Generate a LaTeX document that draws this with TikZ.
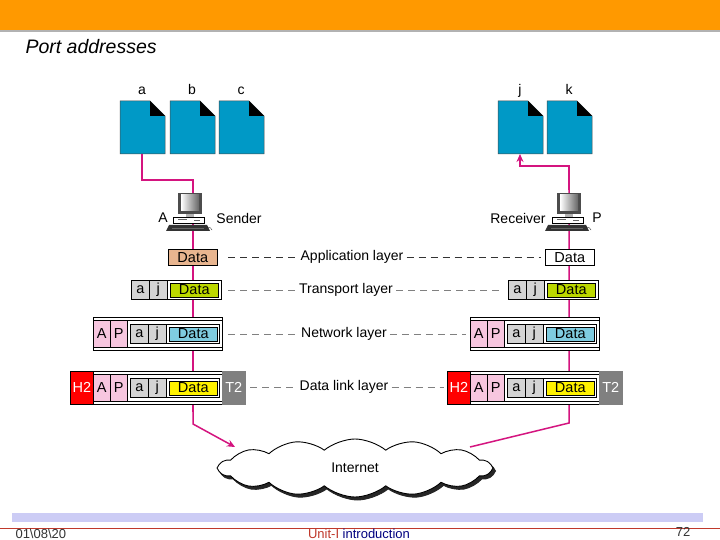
\documentclass[tikz,border=0pt]{standalone}
\usepackage{fontspec}
\setmainfont{Liberation Sans}
\usetikzlibrary{shapes.symbols,arrows.meta}
\definecolor{orangebar}{HTML}{FF9900}
\definecolor{pagec}{HTML}{0099C6}
\definecolor{tan}{HTML}{E8B58F}
\definecolor{lime}{HTML}{BCD800}
\definecolor{lblue}{HTML}{7FCCE0}
\definecolor{pinkc}{HTML}{F7C6DF}
\definecolor{greyc}{HTML}{D4D4D4}
\definecolor{mag}{HTML}{D4147F}
\definecolor{lav}{HTML}{CCCCF5}
\definecolor{footred}{HTML}{C0392B}
\begin{document}
\begin{tikzpicture}[x=1pt,y=-1pt,
  cell/.style={draw=black,line width=0.6pt,inner sep=0pt,font=\fontsize{14.5}{14.5}\selectfont},
  frame/.style={draw=black,line width=0.6pt,fill=white},
  lbl/.style={font=\fontsize{14}{14}\selectfont,inner sep=1pt},
  lay/.style={lbl,fill=white,inner sep=3pt},
  dsh/.style={dash pattern=on 7pt off 5pt,line width=0.8pt},
  wire/.style={draw=mag,line width=1.5pt},
  arr/.style={wire,-{Stealth[length=8pt,width=7pt]}},
  page/.style={fill=pagec,draw=black!70,line width=0.5pt},
  cl/.style={cloud,cloud puffs=14,cloud puff arc=80,aspect=4.8,minimum width=272,minimum height=58,line width=0.9pt}]
\useasboundingbox (0,0) rectangle (720,540);
\fill[white] (0,0) rectangle (720,540);
% header
\fill[orangebar] (0,0) rectangle (720,30);
\fill[gray!60] (0,30) rectangle (720,32);
\node[anchor=west,font=\fontsize{19.5}{19.5}\selectfont\itshape] (title) at (22,47) {Port addresses};
% footer
\fill[lav] (12,513) rectangle (703,522);
\draw[footred,line width=0.8pt] (0,528) -- (720,528);
\node[anchor=west,font=\fontsize{13}{13}\selectfont,text=black!80] (date) at (12,534) {01\textbackslash 08\textbackslash 20};
\node[font=\fontsize{13}{13}\selectfont] (unit) at (359,534) {\textcolor{footred}{Unit-I} \textcolor{blue!50!black}{introduction}};
\node[font=\fontsize{13}{13}\selectfont,text=black!80] (pg) at (683,532) {72};
% pages
\foreach \n/\x in {a/120,b/170,c/219,j/498,k/547}{
  \fill[page] (\x,101) -- (\x+30,101) -- (\x+45,116) -- (\x+45,154) -- (\x,154) -- cycle;
  \fill[black] (\x+30,101) -- (\x+45,116) -- (\x+30,116) -- cycle;
  \node[lbl,anchor=base] (p\n) at (\x+22,95) {\n};
}
\coordinate (pgA) at (142,154);
\coordinate (pgJ) at (520,154);
% wires
\draw[wire] (pgA) -- (142,180) -- (193,180) -- (193,412);
\draw[arr] (193,404) -- (193,424) -- (235,447);
\draw[wire] (470,447) -- (569,423) -- (569,190);
\draw[arr] (569,190) -- (569,166) -- (520,166) -- (pgJ);
% computers
\foreach \cx/\nm in {190/cs,569/cr}{
  \fill[black!70] (\cx-12,193) rectangle (\cx+12,214);
  \shade[left color=white,right color=black!60] (\cx-9,195) rectangle (\cx+9,211);
  \fill[black!30] (\cx-4,214) rectangle (\cx+4,217);
  \draw[fill=white,line width=0.4pt] (\cx-17,217) rectangle (\cx+14,223);
  \draw[black!60] (\cx-12,219) -- (\cx-3,219) (\cx+4,220)--(\cx+10,220);
  \fill[black!80] (\cx-21,225) -- (\cx+17,225) -- (\cx+20,231) -- (\cx-24,231) -- cycle;
  \draw[black!60,line width=0.3pt] (\cx-18,228) -- (\cx+14,228);
  \draw[line width=0.3pt] (\cx+17,227) .. controls (\cx+20,227) .. (\cx+22,230);
  \coordinate (\nm) at (\cx,212);
}
\node[lbl] (A) at (163,218) {A};
\node[lbl] (snd) at (239,218) {Sender};
\node[lbl] (rcv) at (518,218) {Receiver};
\node[lbl] (P) at (597,218) {P};
% layer labels and dashes
\node[lay] (app) at (352,257) {Application layer};
\node[lay] (tra) at (346,290) {Transport layer};
\node[lay] (net) at (344,334) {Network layer};
\node[lay] (dll) at (344,387) {Data link layer};
\draw[dsh,black!80] (228,257) -- (app.west); \draw[dsh,black!80] (app.east) -- (541,257);
\draw[dsh,gray] (228,290) -- (tra.west); \draw[dsh,gray] (tra.east) -- (503,290);
\draw[dsh,gray] (228,334) -- (net.west); \draw[dsh,gray] (net.east) -- (466,334);
\draw[dsh,gray] (250,387) -- (dll.west); \draw[dsh,gray] (dll.east) -- (444,387);
% stacks
\foreach \o/\s/\dc in {0/L/tan,377/R/white}{
 \begin{scope}[xshift=\o]
  \node[cell,fill=\dc,minimum width=49,minimum height=16,anchor=north west] (ad\s) at (168,249) {Data};
 \end{scope}}
\foreach \o/\s in {0/L,377/R}{
 \begin{scope}[xshift=\o]
  % transport
  \draw[frame] (131,280) rectangle (221,299);
  \node[cell,fill=greyc,minimum width=18,minimum height=19,anchor=north west] (ta\s) at (131,280) {a};
  \node[cell,fill=greyc,minimum width=18,minimum height=19,anchor=north west] (tj\s) at (149,280) {j};
  \node[cell,fill=lime,minimum width=48,minimum height=14,anchor=north west] (td\s) at (170,282.5) {Data};
  % network
  \draw[frame] (93,317) rectangle (222,350);
  \draw[line width=0.5pt] (93,320) -- (222,320) (93,347) -- (222,347);
  \node[cell,fill=pinkc,minimum width=17,minimum height=27,anchor=north west] (nA\s) at (93,320) {A};
  \node[cell,fill=pinkc,minimum width=17,minimum height=27,anchor=north west] (nP\s) at (110,320) {P};
  \draw[frame] (127,320) rectangle (222,347);
  \node[cell,fill=greyc,minimum width=18,minimum height=19,anchor=north west] (na\s) at (130,324) {a};
  \node[cell,fill=greyc,minimum width=18,minimum height=19,anchor=north west] (nj\s) at (148,324) {j};
  \draw[line width=0.6pt] (166,324) rectangle (219,343);
  \node[cell,fill=lblue,minimum width=48,minimum height=14,anchor=north west] (nd\s) at (169,326.5) {Data};
  % data link
  \node[cell,fill=red,text=white,minimum width=23,minimum height=33,anchor=north west] (dh\s) at (70,371) {H2};
  \draw[frame] (93,371) rectangle (222,404);
  \draw[line width=0.5pt] (93,374) -- (222,374) (93,401) -- (222,401);
  \node[cell,fill=pinkc,minimum width=17,minimum height=27,anchor=north west] (dA\s) at (93,374) {A};
  \node[cell,fill=pinkc,minimum width=17,minimum height=27,anchor=north west] (dP\s) at (110,374) {P};
  \draw[frame] (127,374) rectangle (222,401);
  \node[cell,fill=greyc,minimum width=18,minimum height=19,anchor=north west] (da\s) at (130,378) {a};
  \node[cell,fill=greyc,minimum width=18,minimum height=19,anchor=north west] (dj\s) at (148,378) {j};
  \draw[line width=0.6pt] (166,378) rectangle (219,397);
  \node[cell,fill=yellow,minimum width=48,minimum height=14,anchor=north west] (dd\s) at (169,380.5) {Data};
  \node[cell,fill=gray,draw=gray,text=white,minimum width=23,minimum height=33,anchor=north west] (dt\s) at (222,371) {T2};
 \end{scope}}
% cloud
\node[cl,fill=black!85,draw=black!85] (inetsh) at (357.5,471) {};
\node[cl,draw=black,fill=white,font=\fontsize{14}{14}\selectfont] (inet) at (355,468) {Internet};
\end{tikzpicture}
\end{document}
